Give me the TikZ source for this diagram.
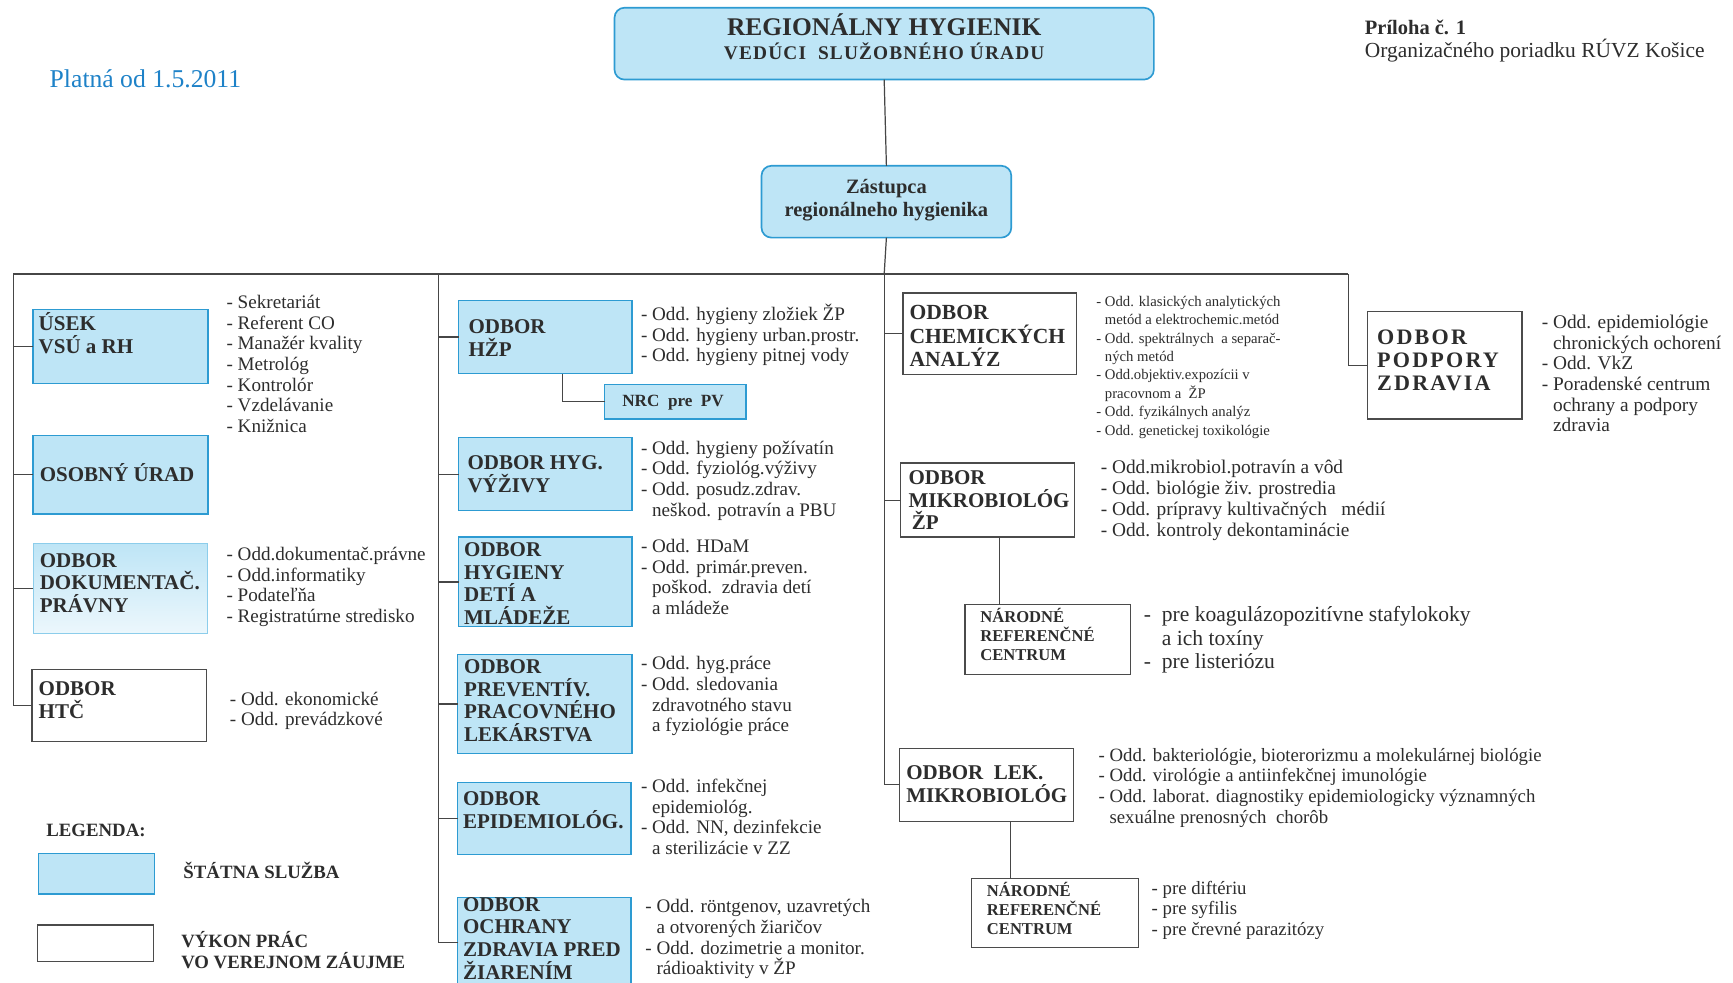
\documentclass[tikz,border=0pt]{standalone}
\usepackage{fontspec}
\setmainfont{Liberation Serif}
\definecolor{blfill}{RGB}{190,229,246}
\definecolor{blbd}{RGB}{45,155,210}
\definecolor{gbd}{RGB}{75,75,75}
\definecolor{ln}{RGB}{70,70,70}
\definecolor{txt}{RGB}{45,45,45}
\definecolor{dbl}{RGB}{30,130,200}
\definecolor{dbd}{RGB}{140,205,235}
\definecolor{dlow}{RGB}{236,247,252}
\newcommand\obox[6]{\node[#2, minimum width={#5-#3}, minimum height={#6-#4}] (#1) at ({(#3+#5)/2},{(#4+#6)/2}) {};}
\newcommand\indnt{\hphantom{- }}
\tikzset{
  every node/.style={inner sep=0pt, outer sep=0pt, text=txt},
  sbox/.style={draw=blbd, fill=blfill, line width=1.3pt},
  rbox/.style={sbox, rounded corners=9pt, line width=1.5pt},
  wbox/.style={draw=gbd, fill=white, line width=1.2pt},
  dbox/.style={draw=dbd, top color=blfill, bottom color=dlow, line width=1pt},
  conn/.style={draw=ln, line width=1.1pt},
  btxt/.style={font=\bfseries\fontsize{19}{20.5}\selectfont, align=left, anchor=west},
  ltxt/.style={font=\fontsize{17.3}{18.7}\selectfont, align=left, anchor=north west},
}
\begin{document}
\begin{tikzpicture}[x=1pt,y=-1pt]
\useasboundingbox[fill=white] (0,0) rectangle (1568,889);

% header texts
\node[anchor=west, text=dbl, font=\fontsize{23.2}{26}\selectfont] (valid) at (45,71) {Platná od 1.5.2011};
\node[anchor=west, font=\bfseries\fontsize{18.5}{21}\selectfont] (pril) at (1235,25) {Príloha č. 1};
\node[anchor=west, font=\fontsize{19.4}{21}\selectfont] (pril2) at (1235,46) {Organizačného poriadku RÚVZ Košice};

% top boxes
\obox{title}{rbox}{556}{7}{1044}{72}
\node[font=\bfseries\fontsize{23}{26}\selectfont] (title-t1) at (800,22) {REGIONÁLNY HYGIENIK};
\node[font=\bfseries\fontsize{17.5}{20}\selectfont\addfontfeatures{LetterSpace=6}] (title-t2) at (800,46) {VEDÚCI~~SLUŽOBNÉHO ÚRADU};
\obox{zast}{rbox}{689}{150}{915}{215}
\node[align=center, font=\bfseries\fontsize{18.5}{21}\selectfont] (zast-t) at (802,181) {Zástupca\\regionálneho hygienika};

% column 1
\obox{usek}{sbox}{30}{280}{188}{347}
\node[btxt] (usek-t) at (35,301.5) {ÚSEK\\VSÚ a RH};
\obox{osob}{sbox}{30}{394}{188}{465}
\node[btxt] (osob-t) at (36,428) {OSOBNÝ ÚRAD};
\obox{dokum}{dbox}{30}{492}{188}{573}
\node[btxt] (dokum-t) at (36,527.5) {ODBOR\\DOKUMENTAČ.\\PRÁVNY};
\obox{htc}{wbox}{29}{606}{187}{671}
\node[btxt] (htc-t) at (35,633.5) {ODBOR\\HTČ};

\node[ltxt] (usek-l) at (205,267) {- Sekretariát\\- Referent CO\\- Manažér kvality\\- Metrológ\\- Kontrolór\\- Vzdelávanie\\- Knižnica};
\node[ltxt] (dokum-l) at (205,495) {- Odd.dokumentač.právne\\- Odd.informatiky\\- Podateľňa\\- Registratúrne stredisko};
\node[ltxt] (htc-l) at (208,626) {- Odd. ekonomické\\- Odd. prevádzkové};

% column 2
\obox{hzp}{sbox}{415}{272}{572}{338}
\node[btxt] (hzp-t) at (424,306) {ODBOR\\HŽP};
\obox{nrcpv}{sbox}{547}{348}{675}{379}
\node[font=\bfseries\fontsize{15.5}{17}\selectfont] (nrcpv-t) at (609,364) {NRC~~pre~~PV};
\obox{vyz}{sbox}{415}{396}{572}{462}
\node[btxt] (vyz-t) at (423,429) {ODBOR HYG.\\VÝŽIVY};
\obox{deti}{sbox}{415}{486}{572}{567}
\node[btxt] (deti-t) at (420,528) {ODBOR\\HYGIENY\\DETÍ A\\MLÁDEŽE};
\obox{prev}{sbox}{414}{592}{572}{682}
\node[btxt] (prev-t) at (420,634) {ODBOR\\PREVENTÍV.\\PRACOVNÉHO\\LEKÁRSTVA};
\obox{epid}{sbox}{414}{708}{571}{773}
\node[btxt] (epid-t) at (419,733) {ODBOR\\EPIDEMIOLÓG.};
\obox{ochr}{sbox}{414}{812}{571}{893}
\node[btxt] (ochr-t) at (419,849) {ODBOR\\OCHRANY\\ZDRAVIA PRED\\ŽIARENÍM};

\node[ltxt] (hzp-l) at (580,275) {- Odd. hygieny zložiek ŽP\\- Odd. hygieny urban.prostr.\\- Odd. hygieny pitnej vody};
\node[ltxt] (vyz-l) at (580,399) {- Odd. hygieny požívatín\\- Odd. fyziológ.výživy\\- Odd. posudz.zdrav.\\\indnt neškod. potravín a PBU};
\node[ltxt] (deti-l) at (580,488) {- Odd. HDaM\\- Odd. primár.preven.\\\indnt poškod.~~zdravia detí\\\indnt a mládeže};
\node[ltxt] (prev-l) at (580,594) {- Odd. hyg.práce\\- Odd. sledovania\\\indnt zdravotného stavu\\\indnt a fyziológie práce};
\node[ltxt] (epid-l) at (580,705) {- Odd. infekčnej\\\indnt epidemiológ.\\- Odd. NN, dezinfekcie\\\indnt a sterilizácie v ZZ};
\node[ltxt] (ochr-l) at (584,814) {- Odd. röntgenov, uzavretých\\\indnt a otvorených žiaričov\\- Odd. dozimetrie a monitor.\\\indnt rádioaktivity v ŽP};

% column 3
\obox{chem}{wbox}{817}{265}{974}{339}
\node[btxt, font=\bfseries\fontsize{19.5}{21}\selectfont] (chem-t) at (823,304) {ODBOR\\CHEMICKÝCH\\ANALÝZ};
\obox{mikro}{wbox}{815}{419}{972}{486}
\node[btxt] (mikro-t) at (822,452.5) {ODBOR\\MIKROBIOLÓG\\\hspace*{3pt}ŽP};
\obox{nrc1}{wbox}{873}{547}{1023}{610}
\node[btxt, font=\bfseries\fontsize{15}{17}\selectfont] (nrc1-t) at (887,574) {NÁRODNÉ\\REFERENČNÉ\\CENTRUM};
\obox{lek}{wbox}{814}{677}{971}{743}
\node[btxt] (lek-t) at (820,709.5) {ODBOR~~LEK.\\MIKROBIOLÓG};
\obox{nrc2}{wbox}{879}{795}{1030}{857}
\node[btxt, font=\bfseries\fontsize{15}{17}\selectfont] (nrc2-t) at (893,822) {NÁRODNÉ\\REFERENČNÉ\\CENTRUM};

\node[ltxt, font=\fontsize{13.3}{16.7}\selectfont] (chem-l) at (992,267.7) {- Odd. klasických analytických\\\indnt metód a elektrochemic.metód\\- Odd. spektrálnych~~a separač-\\\indnt ných metód\\- Odd.objektiv.expozícii v\\\indnt pracovnom a~~ŽP\\- Odd. fyzikálnych analýz\\- Odd. genetickej toxikológie};
\node[ltxt, font=\fontsize{17.5}{19}\selectfont] (mikro-l) at (996,416) {- Odd.mikrobiol.potravín a vôd\\- Odd. biológie živ. prostredia\\- Odd. prípravy kultivačných~~~médií\\- Odd. kontroly dekontaminácie};
\node[ltxt, font=\fontsize{19.5}{21}\selectfont] (nrc1-l) at (1035,549) {-~~pre koagulázopozitívne stafylokoky\\\indnt~a ich toxíny\\-~~pre listeriózu};
\node[ltxt, font=\fontsize{17}{18.7}\selectfont] (lek-l) at (994,677) {- Odd. bakteriológie, bioterorizmu a molekulárnej biológie\\- Odd. virológie a antiinfekčnej imunológie\\- Odd. laborat. diagnostiky epidemiologicky významných\\\indnt sexuálne prenosných~~chorôb};
\node[ltxt, font=\fontsize{17}{18.5}\selectfont] (nrc2-l) at (1042,797) {- pre diftériu\\- pre syfilis\\- pre črevné parazitózy};

% column 4
\obox{podp}{wbox}{1237}{282}{1377}{379}
\node[btxt, font=\bfseries\fontsize{20}{21}\selectfont\addfontfeatures{LetterSpace=10}] (podp-t) at (1246,326) {ODBOR\\PODPORY\\ZDRAVIA};
\node[ltxt, font=\fontsize{17.5}{18.7}\selectfont] (podp-l) at (1395,285) {- Odd. epidemiológie\\\indnt chronických ochorení\\- Odd. VkZ\\- Poradenské centrum\\\indnt ochrany a podpory\\\indnt zdravia};

% legend
\node[anchor=west, font=\bfseries\fontsize{17}{19}\selectfont] (leg-t) at (42,751) {LEGENDA:};
\obox{leg1}{sbox}{35}{772}{140}{809}
\node[anchor=west, font=\bfseries\fontsize{17}{19}\selectfont] (leg1-t) at (166,788) {ŠTÁTNA SLUŽBA};
\obox{leg2}{wbox}{34}{837}{139}{870}
\node[btxt, font=\bfseries\fontsize{17}{19}\selectfont] (leg2-t) at (164,859.5) {VÝKON PRÁC\\VO VEREJNOM ZÁUJME};

% connectors
\coordinate (busL) at (12,248);
\coordinate (busT) at (397,248);
\coordinate (busC) at (800,248);
\coordinate (busR) at (1220,248);
\draw[conn] (title.south) -- (zast.north);
\draw[conn] (zast.south) -- (busC);
\draw[conn] (busL) -- (busR);
\draw[conn] (busL) |- (htc.west);
\draw[conn] (usek.west) -- (usek.west -| busL);
\draw[conn] (osob.west) -- (osob.west -| busL);
\draw[conn] (dokum.west) -- (dokum.west -| busL);
\draw[conn] (busT) |- (ochr.west);
\draw[conn] (hzp.west) -- (hzp.west -| busT);
\draw[conn] (vyz.west) -- (vyz.west -| busT);
\draw[conn] (deti.west) -- (deti.west -| busT);
\draw[conn] (prev.west) -- (prev.west -| busT);
\draw[conn] (epid.west) -- (epid.west -| busT);
\draw[conn] ([xshift=15.5pt]hzp.south) |- (nrcpv.west);
\draw[conn] (busC) |- (lek.west);
\draw[conn] (chem.west) -- (chem.west -| busC);
\draw[conn] (mikro.west) -- (mikro.west -| busC);
\draw[conn] ([xshift=10.5pt]mikro.south) -- ([xshift=10.5pt]mikro.south |- nrc1.north);
\draw[conn] ([xshift=21.5pt]lek.south) -- ([xshift=21.5pt]lek.south |- nrc2.north);
\draw[conn] (busR) |- (podp.west);
\end{tikzpicture}
\end{document}
